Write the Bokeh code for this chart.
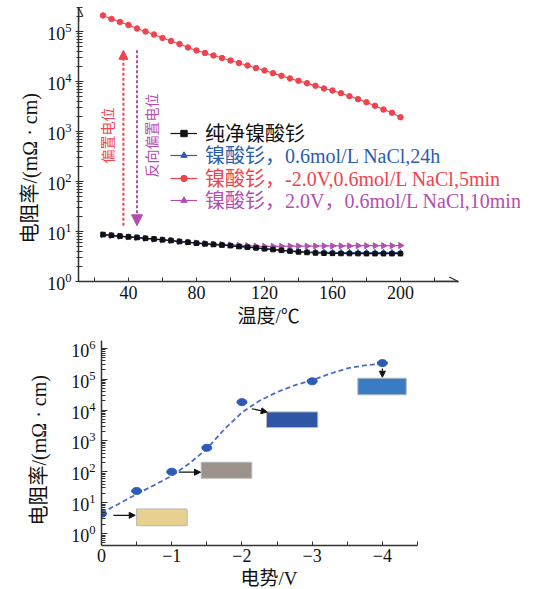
from bokeh.plotting import figure
from bokeh.models import (Range1d, FixedTicker, Legend, LegendItem, Arrow,
                          NormalHead, OpenHead, Label, Title)
from bokeh.embed import file_html
from bokeh.resources import INLINE
from math import pi

# ---------------- data: top chart ----------------
temperature = [25, 30, 35, 40, 45, 50, 55, 60, 65, 70, 75, 80, 85, 90, 95, 100,
               105, 110, 115, 120, 125, 130, 135, 140, 145, 150, 155, 160, 165,
               170, 175, 180, 185, 190, 195, 200]
rho_pure = [8.7, 8.4, 8.1, 7.8, 7.6, 7.3, 7.1, 6.8, 6.6, 6.3, 6.1, 5.85, 5.65,
            5.5, 5.35, 5.2, 5.0, 4.85, 4.7, 4.5, 4.35, 4.2, 4.05, 3.9, 3.8,
            3.72, 3.68, 3.65, 3.63, 3.62, 3.61, 3.6, 3.6, 3.6, 3.6, 3.6]
rho_nacl = [8.5, 8.3, 8.0, 7.8, 7.5, 7.3, 7.0, 6.8, 6.6, 6.3, 6.1, 5.85, 5.65,
            5.5, 5.35, 5.2, 5.0, 4.85, 4.7, 4.55, 4.4, 4.25, 4.1, 4.0, 3.92,
            3.86, 3.83, 3.81, 3.8, 3.8, 3.8, 3.8, 3.8, 3.8, 3.8, 3.8]
rho_neg = [2.09e5, 1.78e5, 1.55e5, 1.35e5, 1.15e5, 1.00e5, 8.71e4, 7.41e4,
           6.46e4, 5.62e4, 4.79e4, 4.17e4, 3.72e4, 3.31e4, 2.95e4, 2.63e4,
           2.34e4, 2.09e4, 1.86e4, 1.66e4, 1.47e4, 1.30e4, 1.15e4, 1.03e4,
           9.25e3, 8.20e3, 7.24e3, 6.61e3, 5.83e3, 5.08e3, 4.43e3, 3.85e3,
           3.27e3, 2.75e3, 2.37e3, 1.93e3]
rho_pos = [8.6, 8.3, 8.0, 7.8, 7.5, 7.3, 7.0, 6.8, 6.6, 6.3, 6.1, 5.9, 5.75,
           5.6, 5.5, 5.4, 5.3, 5.2, 5.1, 5.05, 5.05, 5.05, 5.1, 5.1, 5.1,
           5.1, 5.15, 5.15, 5.15, 5.15, 5.2, 5.2, 5.2, 5.2, 5.2, 5.25]
legend_labels = ["纯净镍酸钐",
                 "镍酸钐，0.6mol/L NaCl,24h",
                 "镍酸钐，-2.0V,0.6mol/L NaCl,5min",
                 "镍酸钐，2.0V，0.6mol/L NaCl,10min"]
temp_ticks = [40, 80, 120, 160, 200]
temp_minor_ticks = [20, 60, 100, 140, 180, 220]

# ---------------- data: bottom chart ----------------
potential = [0, -0.5, -1, -1.5, -2, -3, -4]
rho_potential = [4.4, 24, 100, 600, 1.8e4, 8.5e4, 3.3e5]
fit_potential = [0, -0.25, -0.5, -0.75, -1.0, -1.25, -1.5, -1.75, -2.0, -2.25,
                 -2.5, -2.75, -3.0, -3.25, -3.5, -3.75, -4.0]
fit_rho = [4.7, 9.3, 19, 37, 74, 186, 550, 2.4e3, 8.3e3, 2.0e4, 3.8e4, 6.3e4,
           9.3e4, 1.48e5, 2.24e5, 2.8e5, 3.2e5]
pot_ticks = [0, -1, -2, -3, -4]
pot_minor_ticks = [-0.5, -1.5, -2.5, -3.5, -4.5]

# colour swatches (annotation geometry)
swatch_left = [-0.50, -1.42, -2.35, -3.65]
swatch_right = [-1.22, -2.14, -3.08, -4.34]
swatch_bottom = [1.8, 62, 2.7e3, 3.1e4]
swatch_top = [6.3, 204, 8.7e3, 1.07e5]
swatch_colors = ["#E8D18F", "#9B928C", "#2F55A5", "#3A7CC4"]

NUM_FONT = "Liberation Serif"
MIX_FONT = "Liberation Serif, Noto Sans CJK SC"
BLACK = "#111111"
BLUE = "#2D5DB0"
RED = "#F0434E"
MAGENTA = "#B24FAE"
AXIS = "#333333"


def style_axes(p):
    p.grid.visible = False
    p.outline_line_color = None
    p.background_fill_color = "white"
    for ax in (p.xaxis[0], p.yaxis[0]):
        ax.axis_line_width = 1.5
        ax.axis_line_color = AXIS
        ax.major_tick_line_color = AXIS
        ax.minor_tick_line_color = AXIS
        ax.major_label_text_font = NUM_FONT
        ax.major_label_text_font_size = "18px"
        ax.major_label_text_color = "#111111"


def axis_title(p, text, side, offset, size, standoff):
    t = Title(text=text, align="left", offset=offset, standoff=standoff,
              text_font=MIX_FONT, text_font_size=size, text_font_style="normal",
              text_color="#111111")
    p.add_layout(t, side)


# ================= top chart =================
X0, X1 = 10.59, 270.6
p1 = figure(output_backend="svg", toolbar_location=None, y_axis_type="log",
            x_range=Range1d(X0, X1), y_range=Range1d(1, 10 ** 5.48),
            width=530, height=335,
            min_border_left=78, min_border_right=10,
            min_border_top=7, min_border_bottom=54)
style_axes(p1)
xa, ya = p1.xaxis[0], p1.yaxis[0]
xa.ticker = FixedTicker(ticks=temp_ticks, minor_ticks=temp_minor_ticks)
xa.bounds = (X0, 234)
xa.major_tick_in, xa.major_tick_out = 4, 0
xa.minor_tick_in, xa.minor_tick_out = 4, 0
xa.major_label_standoff = 4
ya.major_tick_in, ya.major_tick_out = 5, 3
ya.minor_tick_in, ya.minor_tick_out = 4, 2
ya.major_label_standoff = 4
axis_title(p1, "温度/℃", "below", 159, "19px", 4)
axis_title(p1, "电阻率/(mΩ · cm)", "left", 38, "20px", 8)

r_pos_l = p1.line(temperature, rho_pos, color=MAGENTA, line_width=1.2)
r_pos_m = p1.scatter(temperature, rho_pos, marker="triangle", angle=-pi / 2,
                     size=6, color=MAGENTA)
r_neg_l = p1.line(temperature, rho_neg, color=RED, line_width=1.2)
r_neg_m = p1.scatter(temperature, rho_neg, marker="circle", size=5.5, color=RED)
r_nacl_l = p1.line(temperature, rho_nacl, color=BLUE, line_width=1.2)
r_nacl_m = p1.scatter(temperature, rho_nacl, marker="triangle", size=5.5, color=BLUE)
r_pure_l = p1.line(temperature, rho_pure, color=BLACK, line_width=1.2)
r_pure_m = p1.scatter(temperature, rho_pure, marker="square", size=4.5, color=BLACK)

# axis end arrows
p1.add_layout(Arrow(end=OpenHead(size=9, line_width=1.3, line_color=AXIS),
                    x_start=X0, y_start=10 ** 5.2, x_end=X0, y_end=10 ** 5.48,
                    line_width=1.5, line_color=AXIS))
p1.add_layout(Arrow(end=OpenHead(size=9, line_width=1.3, line_color=AXIS),
                    x_start=220, y_start=1, x_end=234, y_end=1,
                    line_width=1.5, line_color=AXIS))

# bias arrows
p1.add_layout(Arrow(end=NormalHead(size=9, fill_color=RED, line_color=RED),
                    x_start=37, y_start=13, x_end=37, y_end=4.2e4,
                    line_color=RED, line_width=2, line_dash="3 2"))
p1.add_layout(Arrow(end=NormalHead(size=11, fill_color=MAGENTA, line_color=MAGENTA),
                    x_start=45, y_start=4.2e4, x_end=45, y_end=13,
                    line_color=MAGENTA, line_width=2, line_dash="3 2"))
p1.add_layout(Label(x=28.2, y=10 ** 2.92, text="偏置电位", angle=pi / 2,
                    text_align="center", text_baseline="middle",
                    text_color=RED, text_font=MIX_FONT, text_font_size="14px"))
p1.add_layout(Label(x=54.1, y=10 ** 2.92, text="反向偏置电位", angle=pi / 2,
                    text_align="center", text_baseline="middle",
                    text_color=MAGENTA, text_font=MIX_FONT, text_font_size="14px"))

legend_rows = [
    (legend_labels[0], BLACK, [r_pure_l, r_pure_m], 134),
    (legend_labels[1], BLUE, [r_nacl_l, r_nacl_m], 112),
    (legend_labels[2], RED, [r_neg_l, r_neg_m], 89),
    (legend_labels[3], MAGENTA, [r_pos_l, r_pos_m], 67),
]
for lab, col, rs, yloc in legend_rows:
    lg = Legend(items=[LegendItem(label=lab, renderers=rs)], location=(92, yloc),
                padding=0, margin=0, spacing=0, glyph_width=27, glyph_height=16,
                label_height=20, label_standoff=8, border_line_color=None,
                background_fill_alpha=0, label_text_color=col,
                label_text_font=MIX_FONT, label_text_font_size="20px",
                label_text_baseline="middle")
    p1.add_layout(lg)

# ================= bottom chart =================
p2 = figure(output_backend="svg", toolbar_location=None, y_axis_type="log",
            x_range=Range1d(0, -4.5), y_range=Range1d(10 ** -0.385, 10 ** 6.25),
            width=530, height=254,
            min_border_left=101, min_border_right=113,
            min_border_top=5, min_border_bottom=42)
style_axes(p2)
xb, yb = p2.xaxis[0], p2.yaxis[0]
xb.ticker = FixedTicker(ticks=pot_ticks, minor_ticks=pot_minor_ticks)
xb.major_tick_in, xb.major_tick_out = 4, 0
xb.minor_tick_in, xb.minor_tick_out = 4, 0
xb.major_label_standoff = 3
yb.major_tick_in, yb.major_tick_out = 6, 0
yb.minor_tick_in, yb.minor_tick_out = 4, 0
yb.major_label_standoff = 6
axis_title(p2, "电势/V", "below", 139, "19px", 2)
axis_title(p2, "电阻率/(mΩ · cm)", "left", 20, "20px", 38)

p2.quad(left=swatch_left, right=swatch_right, bottom=swatch_bottom, top=swatch_top,
        fill_color=swatch_colors, line_color="#B8B8B8", line_width=1)
p2.line(fit_potential, fit_rho, color="#4A6CC4", line_width=1.8, line_dash="5 3")
p2.ellipse(x=potential, y=rho_potential, width=10, height=7,
           width_units="screen", height_units="screen", color="#2D5CB8")

arrow_x0 = [-0.17, -1.10, -2.14, -4.0]
arrow_x1 = [-0.48, -1.41, -2.36, -4.0]
arrow_y0 = [3.9, 97, 1.1e4, 2.2e5]
arrow_y1 = [3.9, 97, 8.6e3, 1.15e5]
for xs, xe, ys, ye in zip(arrow_x0, arrow_x1, arrow_y0, arrow_y1):
    p2.add_layout(Arrow(end=NormalHead(size=6, fill_color="#111111",
                                       line_color="#111111"),
                        x_start=xs, y_start=ys, x_end=xe, y_end=ye,
                        line_width=1.2, line_color="#111111"))

open("out.html", "w").write(file_html([p1, p2], INLINE))
